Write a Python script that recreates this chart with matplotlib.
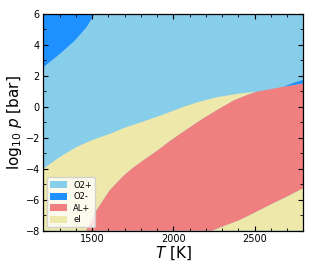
import numpy as np
import matplotlib
matplotlib.use("Agg")
import matplotlib.pyplot as plt
from matplotlib.patches import Patch
from matplotlib.ticker import MultipleLocator

# species and colours
species = ["O2+", "O2-", "AL+", "el"]
colors = {"O2+": "#87CEEB", "O2-": "#1E90FF", "AL+": "#F08080", "el": "#EEE8AA"}

T_range = [1200, 2800]
p_range = [-8, 6]

# boundary between O2- (upper left) and O2+
b_o2m_T = [1200, 1301, 1393, 1465, 1516]
b_o2m_p = [2.56, 3.42, 4.28, 5.14, 6.0]

# boundary O2+ / el (upper edge of the left el band)
b_o2p_el_T = [1200, 1300, 1403, 1500, 1608, 1700, 1814, 1950, 2062, 2150, 2267, 2400, 2513]
b_o2p_el_p = [-4.0, -3.25, -2.6, -2.15, -1.75, -1.35, -0.95, -0.45, 0.0, 0.3, 0.62, 0.85, 0.98]

# boundary el / AL+ (left edge of the AL+ region)
b_el_al_T = [1462, 1490, 1526, 1608, 1694, 1750, 1830, 1906, 1980, 2070, 2164, 2270, 2369, 2450, 2513]
b_el_al_p = [-8.0, -7.5, -6.7, -5.4, -4.45, -3.95, -3.35, -2.79, -2.2, -1.55, -0.88, -0.2, 0.4, 0.75, 0.98]

# boundary O2+ / AL+ (upper edge of AL+)
b_o2p_al_T = [2513, 2600, 2677, 2800]
b_o2p_al_p = [0.98, 1.15, 1.30, 1.52]

# thin O2- sliver upper edge at the right
b_sliver_T = [2677, 2740, 2800]
b_sliver_p = [1.30, 1.55, 1.75]

# boundary AL+ / el (lower right)
b_al_el2_T = [2240, 2300, 2410, 2513, 2615, 2700, 2800]
b_al_el2_p = [-8.0, -7.75, -7.31, -6.77, -6.23, -5.8, -5.26]

fig = plt.figure(figsize=(3.14, 2.69), dpi=100)
ax = fig.add_axes([0.138, 0.1424, 0.828, 0.8056])

Tmin, Tmax = T_range
pmin, pmax = p_range

# O2+ background
ax.fill([Tmin, Tmax, Tmax, Tmin], [pmin, pmin, pmax, pmax], color=colors["O2+"], lw=0)

# O2- upper-left
ax.fill(b_o2m_T + [Tmin], b_o2m_p + [pmax], color=colors["O2-"], lw=0)

# el left band
xs = b_o2p_el_T + b_el_al_T[::-1] + [Tmin]
ys = b_o2p_el_p + b_el_al_p[::-1] + [pmin]
ax.fill(xs, ys, color=colors["el"], lw=0)

# AL+ region
xs = b_el_al_T + b_o2p_al_T[1:] + b_al_el2_T[::-1]
ys = b_el_al_p + b_o2p_al_p[1:] + b_al_el2_p[::-1]
ax.fill(xs, ys, color=colors["AL+"], lw=0)

# el lower-right
ax.fill(b_al_el2_T + [Tmax], b_al_el2_p + [pmin], color=colors["el"], lw=0)

# O2- sliver right
ax.fill(b_sliver_T + b_o2p_al_T[::-1][:2], b_sliver_p + b_o2p_al_p[::-1][:2],
        color=colors["O2-"], lw=0)

ax.set_xlim(Tmin, Tmax)
ax.set_ylim(pmin, pmax)
ax.set_xticks([1500, 2000, 2500])
ax.set_yticks([-8, -6, -4, -2, 0, 2, 4, 6])
ax.xaxis.set_minor_locator(MultipleLocator(100))
ax.yaxis.set_minor_locator(MultipleLocator(1))
ax.tick_params(which="both", direction="in", top=True, right=True, labelsize=7)
ax.tick_params(which="major", length=3.5, width=0.8, pad=2.5)
ax.tick_params(which="minor", length=2, width=0.6)
for s in ax.spines.values():
    s.set_linewidth(0.9)

ax.set_xlabel(r"$T$ [K]", fontsize=11, labelpad=0)
ax.set_ylabel(r"$\log_{10}\,p$ [bar]", fontsize=11, labelpad=1)

handles = [Patch(facecolor=colors[s], edgecolor="none", label=s) for s in species]
ax.legend(handles=handles, loc="lower left", fontsize=6, frameon=True,
          handlelength=2.0, handleheight=0.9, borderpad=0.4, labelspacing=0.3,
          handletextpad=0.8, framealpha=0.8, edgecolor="#cccccc", fancybox=True,
          borderaxespad=0.4)

fig.savefig("out.png", dpi=100)
